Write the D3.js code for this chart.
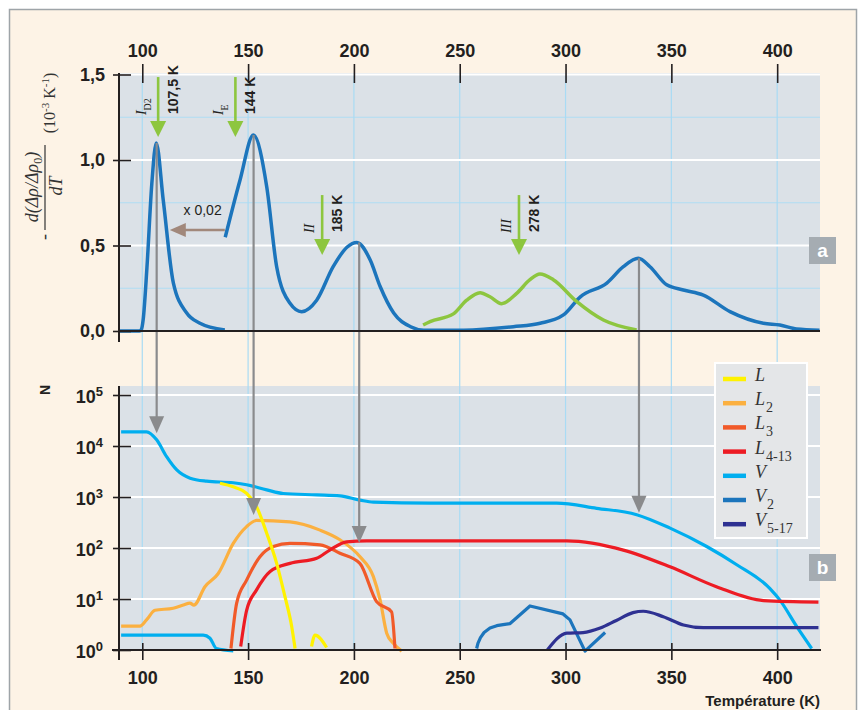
<!DOCTYPE html>
<html>
<head>
<meta charset="utf-8">
<script src="https://cdn.jsdelivr.net/npm/d3@7"></script>
<style>
body { margin: 0; background: #fff; }
svg text { font-family: "Liberation Sans", Arial, sans-serif; }
svg text.serif { font-family: "Liberation Serif", "Times New Roman", serif; }
</style>
</head>
<body>
<div id="chart"></div>
<script>
// axis ticks
var tempTicks = [100, 150, 200, 250, 300, 350, 400];
var rateTicks = [0, 0.5, 1.0, 1.5];
var rateMinor = [0.25, 0.75, 1.25];
var nTicks = [1, 10, 100, 1000, 10000, 100000];

// panel a : -d(Δρ/Δρ0)/dT, first peak (drawn x 0,02)
var peakLowT = [89, 98.7, 99.6, 100.4, 102.2, 104.5, 106.6, 109.9, 114.7, 121, 127, 139];
var peakLowV = [0, 0, 0.01, 0.064, 0.37, 0.86, 1.10, 0.766, 0.28, 0.105, 0.047, 0.006];

// panel a : main blue curve
var mainT = [139.2, 146.2, 152.5, 158.8, 163.5, 169.8, 175.3, 182.4, 190.2, 196.7, 201.4, 207.7, 212.4, 218.8, 226.8, 233,
             251.8, 275.3, 288, 299, 307, 319.5, 327.3, 334.4, 339.9, 347.8, 355.7, 365.1, 377.7, 393.5, 401.3, 409.2, 420];
var mainV = [0.548, 0.883, 1.146, 0.844, 0.376, 0.162, 0.113, 0.18, 0.376, 0.49, 0.518, 0.415, 0.26, 0.105, 0.025, 0.005,
             0.005, 0.025, 0.045, 0.094, 0.2, 0.28, 0.376, 0.425, 0.376, 0.27, 0.24, 0.21, 0.113, 0.045, 0.035, 0.012, 0.005];

// panel a : green curve
var greenT = [232.7, 236, 247, 253.3, 259.6, 264.3, 269.8, 276.9, 283.2, 287.9, 294.2, 305.2, 317.9, 333.6];
var greenV = [0.035, 0.055, 0.1, 0.18, 0.224, 0.2, 0.16, 0.22, 0.3, 0.333, 0.3, 0.173, 0.064, 0.006];

// panel a : marked transitions
var markT = [107.5, 144, 185, 278];
var markLabel = ["107,5 K", "144 K", "185 K", "278 K"];
var markName = ["I", "I", "II", "III"];
var markSub = ["D2", "E", "", ""];

// panel b : cluster counts N (null = gap)
var lT = [136.7, 143, 149.3, 154, 158.8, 163.5, 167.4, 170.6, 172.2, null, 180, 181.6, 187.1];
var lN = [1860, 1580, 1175, 645, 195, 50, 11.2, 2.9, 1.07, null, 1.17, 1.95, 1.12];

var l2T = [90, 98.9, 102, 106, 114.6, 119.4, 122.5, 124.4, 129.6, 135.9, 143, 149.3, 154, 169.8, 184, 193.4, 202.8, 209.2, 212.4, 215.5, 218.6, 222.6];
var l2N = [2.95, 2.95, 3.9, 6.0, 6.6, 7.6, 8.3, 7.6, 17.4, 31.6, 123, 263, 347, 324, 224, 145, 68, 27.5, 9.5, 2.14, 1.35, 0.95];

var l3T = [141.9, 144.6, 149.3, 155.6, 161.9, 169.8, 184, 193.4, 202.8, 210.7, 217.8, 219.4];
var l3N = [1.07, 8.3, 23.4, 67.6, 107, 123, 115, 79, 50, 8.9, 5.6, 1.07];

var l413T = [146.5, 149.3, 154, 160.4, 169.8, 182.4, 188.6, 196.5, 206, 300.6, 327.3, 349.4, 371.3, 393.5, 419.5];
var l413N = [1.17, 6.0, 15.1, 34.7, 50, 63, 91, 132, 138, 138, 91, 42.7, 17.4, 9.3, 8.7];

var vT = [90, 102, 106.8, 111.5, 116.3, 122.6, 130.4, 143, 149.3, 158.8, 166.6, 182.4, 193.4, 202.8, 209.2, 236, 295.8, 314.7, 333.6, 349.4, 366.7, 380.9, 396.6, 401.3, 409.2, 416.3,
          null, 90, 128.8, 132, 135, 143];
var vN = [19000, 19000, 13200, 6170, 3390, 2340, 2040, 1900, 1740, 1380, 1170, 1100, 1050, 870, 790, 760, 760, 600, 450, 245, 107, 47, 16, 9.5, 2.9, 1.07,
          null, 1.95, 1.95, 1.7, 1.07, 0.96];

var v2T = [258, 258.6, 259.8, 261.5, 264.3, 267.5, 270.5, 273.8, 283.2, 298.8, 302.1, 309.2, 318.7];
var v2N = [1.07, 1.35, 1.75, 2.2, 2.7, 3.0, 3.15, 3.3, 7.3, 5.1, 3.9, 0.95, 2.2];

var v517T = [291.4, 300.6, 308.3, 316.4, 324, 331.9, 336.7, 346.2, 355.7, 365.1, 419.5];
var v517N = [1.0, 2.14, 2.2, 2.7, 3.8, 5.4, 5.75, 4.5, 3.1, 2.75, 2.75];

// links from panel a peaks to panel b
var linkT = [106.8, 152.6, 202.5, 334.7];
var linkFrom = [1.10, 1.146, 0.518, 0.425];
var linkTo = [17800, 446, 126, 490];

var seriesNames = ["L", "L", "L", "L", "V", "V", "V"];
var seriesSubs = ["", "2", "3", "4-13", "", "2", "5-17"];
var seriesColors = ["#fff200", "#fbb040", "#f15a29", "#ed1c24", "#00aeef", "#1c75bc", "#2e3192"];

var series = [
  { T: lT, N: lN }, { T: l2T, N: l2N }, { T: l3T, N: l3N }, { T: l413T, N: l413N },
  { T: vT, N: vN }, { T: v2T, N: v2N, linear: true }, { T: v517T, N: v517N }
];

var width = 863, height = 710;
var svg = d3.select("#chart").append("svg").attr("width", width).attr("height", height);

// frame
svg.append("rect").attr("x", 9.5).attr("y", 9.5).attr("width", 847).attr("height", 720)
  .attr("fill", "#fdf3e6").attr("stroke", "#9ea4a8").attr("stroke-width", 1.5);

var x = d3.scaleLinear().domain([89, 420]).range([119, 819.5]);
var yA = d3.scaleLinear().domain([0, 1.5]).range([331, 74.5]);
var yB = d3.scaleLog().domain([1, 100000]).range([650, 395]);

var axisCol = "#231f20";

// panel backgrounds
svg.append("rect").attr("x", 119).attr("y", 73).attr("width", 701).attr("height", 258).attr("fill", "#dbe1e7");
svg.append("rect").attr("x", 119).attr("y", 386).attr("width", 701).attr("height", 264).attr("fill", "#dbe1e7");

// grids
svg.append("g").selectAll("line").data(rateMinor).enter().append("line")
  .attr("x1", 119).attr("x2", 820).attr("y1", d => yA(d)).attr("y2", d => yA(d))
  .attr("stroke", "#afdcf3").attr("stroke-width", 1.2);
svg.append("g").selectAll("line").data(tempTicks).enter().append("line")
  .attr("x1", d => x(d)).attr("x2", d => x(d)).attr("y1", 73).attr("y2", 650)
  .attr("stroke", "#a9dbf4").attr("stroke-width", 1.2);
svg.append("g").selectAll("line").data(rateTicks.slice(1)).enter().append("line")
  .attr("x1", 119).attr("x2", 820).attr("y1", d => yA(d)).attr("y2", d => yA(d))
  .attr("stroke", "#fff").attr("stroke-width", 2);
svg.append("g").selectAll("line").data(nTicks.slice(1)).enter().append("line")
  .attr("x1", 119).attr("x2", 820).attr("y1", d => yB(d)).attr("y2", d => yB(d))
  .attr("stroke", "#fff").attr("stroke-width", 2);

// panel a curves
var lineA = d3.line().x(d => x(d[0])).y(d => yA(d[1])).curve(d3.curveMonotoneX);
function zip(a, b) { return a.map((v, i) => [v, b[i]]); }
svg.append("path").attr("d", lineA(zip(peakLowT, peakLowV)))
  .attr("fill", "none").attr("stroke", "#1c75bc").attr("stroke-width", 3.5);
svg.append("path").attr("d", lineA(zip(mainT, mainV)))
  .attr("fill", "none").attr("stroke", "#1c75bc").attr("stroke-width", 3.5);
svg.append("path").attr("d", lineA(zip(greenT, greenV)))
  .attr("fill", "none").attr("stroke", "#8dc63f").attr("stroke-width", 3.5);

// panel b curves
var lineB = d3.line().defined(d => d[0] != null).x(d => x(d[0])).y(d => yB(d[1])).curve(d3.curveMonotoneX);
var lineBlin = d3.line().defined(d => d[0] != null).x(d => x(d[0])).y(d => yB(d[1]));
var drawOrder = [4, 5, 6, 1, 2, 3, 0];
drawOrder.forEach(function(i) {
  var ln = series[i].linear ? lineBlin : lineB;
  svg.append("path").attr("d", ln(zip(series[i].T, series[i].N)))
    .attr("fill", "none").attr("stroke", seriesColors[i]).attr("stroke-width", 3.2)
    .attr("stroke-linejoin", "round");
});

// arrows
function vArrow(xp, y1, y2, col, w, hw, hh) {
  svg.append("line").attr("x1", xp).attr("x2", xp).attr("y1", y1).attr("y2", y2 - hh + 2)
    .attr("stroke", col).attr("stroke-width", w);
  svg.append("path").attr("d", "M" + (xp - hw / 2) + "," + (y2 - hh) + "L" + (xp + hw / 2) + "," + (y2 - hh) + "L" + xp + "," + y2 + "Z")
    .attr("fill", col);
}

linkT.forEach(function(t, i) {
  vArrow(x(t), yA(linkFrom[i]), yB(linkTo[i]), "#8a8b8d", 2.2, 15, 17);
});

// green transition markers
var markTop = [1.485, 1.485, 0.795, 0.795];
var markTip = [1.135, 1.135, 0.444, 0.444];
markT.forEach(function(t, i) {
  var xp = x(t), y0 = yA(markTop[i]);
  vArrow(xp, y0, yA(markTip[i]), "#8dc63f", 2.6, 16, 16);
  svg.append("text").attr("transform", "translate(" + (xp + 20) + "," + (y0 + 37) + ") rotate(-90)")
    .attr("font-size", 14).attr("font-weight", "bold").attr("fill", axisCol).text(markLabel[i]);
  var nt = svg.append("text").attr("class", "serif")
    .attr("transform", "translate(" + (xp - (markSub[i] ? 12 : 8)) + "," + (y0 + 38) + ") rotate(-90)")
    .attr("font-size", 14).attr("font-style", "italic").attr("fill", axisCol).text(markName[i]);
  if (markSub[i]) nt.append("tspan").attr("dy", 5).attr("font-size", 10).attr("font-style", "normal").text(markSub[i]);
});

// scale factor arrow
var scaleY = yA(0.59);
svg.append("line").attr("x1", x(139)).attr("x2", x(117)).attr("y1", scaleY).attr("y2", scaleY)
  .attr("stroke", "#a1887b").attr("stroke-width", 2.5);
svg.append("path").attr("d", "M" + x(113) + "," + scaleY + "L" + (x(113) + 16) + "," + (scaleY - 7) + "L" + (x(113) + 16) + "," + (scaleY + 7) + "Z")
  .attr("fill", "#a1887b");
svg.append("text").attr("x", x(119.5)).attr("y", yA(0.68)).attr("font-size", 14).attr("fill", axisCol).text("x 0,02");

// axes
var topAxis = svg.append("g").attr("transform", "translate(0,83)")
  .call(d3.axisTop(x).tickValues(tempTicks).tickSize(19).tickPadding(7).tickFormat(d3.format("d")));
var botAxis = svg.append("g").attr("transform", "translate(0,643)")
  .call(d3.axisBottom(x).tickValues(tempTicks).tickSize(17).tickPadding(11).tickFormat(d3.format("d")));
var leftA = svg.append("g").attr("transform", "translate(131,0)")
  .call(d3.axisLeft(yA).tickValues(rateTicks).tickSize(18).tickPadding(8)
    .tickFormat(d => d3.format(".1f")(d).replace(".", ",")));
var leftB = svg.append("g").attr("transform", "translate(131,0)")
  .call(d3.axisLeft(yB).tickValues(nTicks).tickSize(18).tickPadding(10).tickFormat(""));
leftB.selectAll(".tick text").each(function(d) {
  var t = d3.select(this);
  t.text("10");
  t.append("tspan").attr("dy", "-0.5em").attr("font-size", 13).text(Math.round(Math.log10(d)));
});
[topAxis, botAxis, leftA, leftB].forEach(function(g) {
  g.select(".domain").remove();
  g.selectAll(".tick line").attr("stroke", axisCol).attr("stroke-width", 1.6);
  g.selectAll(".tick text").attr("font-size", 18).attr("font-weight", "bold").attr("fill", axisCol)
    .attr("font-family", "'Liberation Sans', Arial, sans-serif");
});
leftB.selectAll(".tick text").attr("dy", "0.4em");

// axis lines
svg.append("line").attr("x1", 119).attr("x2", 119).attr("y1", 73).attr("y2", 342).attr("stroke", axisCol).attr("stroke-width", 2);
svg.append("line").attr("x1", 119).attr("x2", 820).attr("y1", yA(0)).attr("y2", yA(0)).attr("stroke", axisCol).attr("stroke-width", 2);
svg.append("line").attr("x1", 119).attr("x2", 119).attr("y1", 386).attr("y2", 660).attr("stroke", axisCol).attr("stroke-width", 2);
svg.append("line").attr("x1", 112).attr("x2", 821).attr("y1", 650).attr("y2", 650).attr("stroke", axisCol).attr("stroke-width", 2);

// axis titles
var yt = svg.append("g").attr("transform", "rotate(-90)");
yt.append("text").attr("class", "serif").attr("x", -237).attr("y", 50).attr("text-anchor", "middle")
  .attr("font-size", 18).attr("fill", "#333").text("-");
var num = yt.append("text").attr("class", "serif").attr("x", -187).attr("y", 38).attr("text-anchor", "middle")
  .attr("font-size", 18).attr("font-style", "italic").attr("fill", "#333");
num.append("tspan").text("d(Δρ/Δρ");
num.append("tspan").attr("dy", 4).attr("font-size", 12).attr("font-style", "normal").text("0");
num.append("tspan").attr("dy", -4).text(")");
yt.append("line").attr("x1", -230).attr("x2", -145).attr("y1", 45).attr("y2", 45).attr("stroke", "#333").attr("stroke-width", 1.2);
yt.append("text").attr("class", "serif").attr("x", -186).attr("y", 62).attr("text-anchor", "middle")
  .attr("font-size", 18).attr("font-style", "italic").attr("fill", "#333").text("dT");
var unit = yt.append("text").attr("class", "serif").attr("x", -103).attr("y", 55).attr("text-anchor", "middle")
  .attr("font-size", 16).attr("fill", "#333");
unit.append("tspan").text("(10");
unit.append("tspan").attr("dy", -6).attr("font-size", 11).text("-3");
unit.append("tspan").attr("dy", 6).text(" K");
unit.append("tspan").attr("dy", -6).attr("font-size", 11).text("-1");
unit.append("tspan").attr("dy", 6).text(")");

svg.append("text").attr("transform", "translate(50,390) rotate(-90)").attr("text-anchor", "middle")
  .attr("font-size", 14).attr("font-weight", "bold").attr("fill", axisCol).text("N");
svg.append("text").attr("x", 820).attr("y", 706).attr("text-anchor", "end")
  .attr("font-size", 15).attr("font-weight", "bold").attr("fill", axisCol).text("Température (K)");

// panel tags
[["a", 237], ["b", 554]].forEach(function(p) {
  svg.append("rect").attr("x", 809).attr("y", p[1]).attr("width", 27).attr("height", 27).attr("fill", "#a5acb2");
  svg.append("text").attr("x", 822.5).attr("y", p[1] + 20).attr("text-anchor", "middle")
    .attr("font-size", 19).attr("font-weight", "bold").attr("fill", "#fff").text(p[0]);
});

// legend
var lg = svg.append("g").attr("transform", "translate(715,363)");
lg.append("rect").attr("width", 92).attr("height", 175).attr("fill", "#e4e6e8").attr("stroke", "#fff").attr("stroke-width", 2);
seriesNames.forEach(function(nm, i) {
  var yy = 16 + i * 24.2;
  lg.append("line").attr("x1", 8).attr("x2", 31).attr("y1", yy).attr("y2", yy)
    .attr("stroke", seriesColors[i]).attr("stroke-width", 4.5);
  var t = lg.append("text").attr("class", "serif").attr("x", 40).attr("y", yy + 2)
    .attr("font-size", 18).attr("font-style", "italic").attr("fill", "#333").text(nm);
  if (seriesSubs[i]) t.append("tspan").attr("dx", 1).attr("dy", 7).attr("font-size", 14).attr("font-style", "normal").text(seriesSubs[i]);
});
</script>
</body>
</html>
